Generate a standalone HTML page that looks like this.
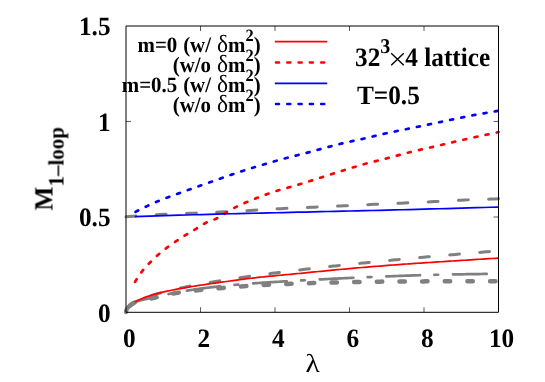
<!DOCTYPE html>
<html><head><meta charset="utf-8"><title>M 1-loop vs lambda</title>
<style>
html,body{margin:0;padding:0;background:#fff;}
svg{display:block;}
text{font-family:"Liberation Serif",serif;font-weight:bold;fill:#000;text-rendering:geometricPrecision;}
.txt{opacity:0.999;}
.tk{font-size:25.3px;}
.lg{font-size:20.9px;word-spacing:0.7px;}
.sym{font-weight:normal;}
</style></head><body>
<svg width="545" height="382" viewBox="0 0 545 382">
<rect width="545" height="382" fill="#fff"/>
<!-- ticks -->
<path d="M200.50,312.30v-5M200.50,26.00v5M275.00,312.30v-5M275.00,26.00v5M349.50,312.30v-5M349.50,26.00v5M424.00,312.30v-5M424.00,26.00v5M126.00,217.00h5M498.50,217.00h-5M126.00,121.45h5M498.50,121.45h-5" fill="none" stroke="#000" stroke-width="0.65"/>
<!-- gray reference curves -->
<g fill="none" stroke="#808080" stroke-linecap="round">
<path d="M126.00,216.87 L129.76,216.57 L133.53,216.27 L137.29,215.99 L141.05,215.72 L144.81,215.46 L148.58,215.22 L152.34,214.99 L156.10,214.77 L159.86,214.56 L163.63,214.37 L167.39,214.19 L171.15,214.03 L174.91,213.88 L178.68,213.73 L182.44,213.59 L186.20,213.44 L189.96,213.29 L193.73,213.14 L197.49,212.98 L201.25,212.83 L205.02,212.68 L208.78,212.52 L212.54,212.37 L216.30,212.21 L220.07,212.04 L223.83,211.86 L227.59,211.68 L231.35,211.49 L235.12,211.29 L238.88,211.09 L242.64,210.89 L246.40,210.68 L250.17,210.47 L253.93,210.26 L257.69,210.04 L261.45,209.80 L265.22,209.56 L268.98,209.32 L272.74,209.09 L276.51,208.87 L280.27,208.66 L284.03,208.47 L287.79,208.29 L291.56,208.13 L295.32,207.97 L299.08,207.82 L302.84,207.66 L306.61,207.51 L310.37,207.35 L314.13,207.18 L317.89,207.01 L321.66,206.84 L325.42,206.67 L329.18,206.49 L332.94,206.31 L336.71,206.13 L340.47,205.96 L344.23,205.78 L347.99,205.60 L351.76,205.42 L355.52,205.24 L359.28,205.06 L363.05,204.89 L366.81,204.71 L370.57,204.54 L374.33,204.37 L378.10,204.20 L381.86,204.03 L385.62,203.86 L389.38,203.69 L393.15,203.53 L396.91,203.36 L400.67,203.19 L404.43,203.02 L408.20,202.85 L411.96,202.68 L415.72,202.51 L419.48,202.34 L423.25,202.16 L427.01,201.98 L430.77,201.80 L434.54,201.61 L438.30,201.41 L442.06,201.21 L445.82,200.99 L449.59,200.78 L453.35,200.57 L457.11,200.37 L460.87,200.19 L464.64,200.02 L468.40,199.87 L472.16,199.72 L475.92,199.58 L479.69,199.45 L483.45,199.32 L487.21,199.20 L490.97,199.07 L494.74,198.95 L498.50,198.83" stroke-width="3" stroke-dasharray="9.9 20.35" stroke-dashoffset="30.21"/>
<path d="M126.00,312.09 L126.02,311.88 L126.04,311.66 L126.06,311.44 L126.10,311.22 L126.15,311.01 L126.20,310.79 L126.26,310.57 L126.33,310.36 L126.41,310.14 L126.50,309.92 L126.59,309.70 L126.69,309.49 L126.81,309.27 L126.93,309.05 L127.05,308.83 L127.19,308.62 L127.33,308.40 L127.49,308.18 L127.65,307.96 L127.82,307.75 L127.99,307.53 L128.18,307.31 L128.37,307.10 L128.58,306.88 L128.79,306.67 L129.01,306.45 L129.23,306.23 L129.47,306.02 L129.71,305.80 L129.97,305.59 L130.23,305.37 L130.49,305.16 L130.77,304.94 L131.06,304.73 L131.35,304.51 L131.65,304.30 L131.96,304.09 L132.28,303.87 L132.61,303.66 L132.94,303.44 L133.29,303.23 L133.64,303.02 L134.00,302.80 L134.36,302.59 L134.74,302.38 L135.13,302.17 L135.52,301.95 L135.92,301.74 L136.33,301.53 L136.75,301.32 L137.17,301.11 L137.61,300.90 L138.05,300.68 L138.50,300.47 L138.96,300.26 L139.43,300.05 L139.90,299.84 L140.39,299.63 L140.88,299.42 L141.38,299.21 L141.89,299.00 L142.41,298.79 L142.93,298.58 L143.47,298.37 L144.01,298.16 L144.56,297.95 L145.12,297.74 L145.68,297.53 L146.26,297.32 L146.84,297.11 L147.43,296.90 L148.03,296.70 L148.64,296.49 L149.26,296.28 L149.88,296.07 L150.52,295.86 L151.16,295.65 L151.81,295.45 L152.46,295.24 L153.13,295.03 L153.80,294.82 L154.49,294.61 L155.18,294.41 L155.88,294.20 L156.59,293.99 L157.30,293.79 L158.03,293.58 L158.76,293.37 L159.50,293.16 L160.25,292.96 L161.00,292.75 L161.77,292.55 L162.54,292.34 L163.33,292.13 L164.12,291.93 L164.91,291.72 L165.72,291.52 L166.54,291.31 L167.36,291.10 L168.19,290.90 L169.03,290.69 L169.88,290.49 L170.74,290.28 L171.60,290.08 L172.48,289.87 L173.36,289.67 L174.25,289.46 L175.14,289.26 L176.05,289.05 L176.97,288.85 L177.89,288.64 L178.82,288.44 L179.76,288.23 L180.71,288.03 L181.66,287.83 L182.63,287.62 L183.60,287.42 L184.58,287.21 L185.57,287.01 L186.57,286.81 L187.57,286.60 L188.59,286.40 L189.61,286.20 L190.64,285.99 L191.68,285.79 L192.72,285.59 L193.78,285.38 L194.84,285.18 L195.92,284.98 L197.00,284.77 L198.08,284.57 L199.18,284.37 L200.29,284.17 L201.40,283.96 L202.52,283.76 L203.65,283.56 L204.79,283.36 L205.94,283.15 L207.09,282.95 L208.25,282.75 L209.42,282.55 L210.60,282.35 L211.79,282.14 L212.99,281.94 L214.19,281.74 L215.41,281.54 L216.63,281.34 L217.86,281.14 L219.09,280.93 L220.34,280.73 L221.59,280.53 L222.86,280.33 L224.13,280.13 L225.40,279.93 L226.69,279.73 L227.99,279.53 L229.29,279.32 L230.60,279.12 L231.92,278.92 L233.25,278.72 L234.59,278.52 L235.93,278.32 L237.29,278.12 L238.65,277.92 L240.02,277.72 L241.40,277.51 L242.78,277.31 L244.18,277.11 L245.58,276.91 L246.99,276.71 L248.41,276.51 L249.84,276.31 L251.28,276.11 L252.72,275.91 L254.18,275.71 L255.64,275.51 L257.11,275.30 L258.58,275.10 L260.07,274.90 L261.56,274.70 L263.07,274.50 L264.58,274.30 L266.10,274.10 L267.62,273.90 L269.16,273.70 L270.70,273.50 L272.25,273.30 L273.82,273.10 L275.38,272.90 L276.96,272.70 L278.55,272.50 L280.14,272.30 L281.74,272.10 L283.35,271.90 L284.97,271.71 L286.60,271.51 L288.23,271.31 L289.88,271.11 L291.53,270.91 L293.19,270.71 L294.86,270.51 L296.53,270.31 L298.22,270.11 L299.91,269.91 L301.61,269.71 L303.32,269.51 L305.04,269.31 L306.76,269.11 L308.50,268.91 L310.24,268.71 L311.99,268.51 L313.75,268.31 L315.52,268.11 L317.29,267.91 L319.08,267.71 L320.87,267.51 L322.67,267.31 L324.48,267.11 L326.30,266.91 L328.12,266.71 L329.96,266.51 L331.80,266.31 L333.65,266.11 L335.51,265.91 L337.37,265.70 L339.25,265.50 L341.13,265.30 L343.02,265.10 L344.92,264.90 L346.83,264.70 L348.75,264.50 L350.67,264.30 L352.61,264.10 L354.55,263.89 L356.50,263.69 L358.46,263.49 L360.42,263.29 L362.40,263.09 L364.38,262.89 L366.37,262.68 L368.37,262.48 L370.38,262.28 L372.39,262.08 L374.42,261.88 L376.45,261.68 L378.49,261.47 L380.54,261.27 L382.60,261.07 L384.66,260.87 L386.74,260.67 L388.82,260.47 L390.91,260.27 L393.01,260.06 L395.11,259.86 L397.23,259.66 L399.35,259.46 L401.49,259.26 L403.63,259.06 L405.77,258.85 L407.93,258.65 L410.10,258.45 L412.27,258.25 L414.45,258.05 L416.64,257.85 L418.84,257.65 L421.04,257.45 L423.26,257.25 L425.48,257.05 L427.71,256.85 L429.95,256.65 L432.20,256.45 L434.46,256.25 L436.72,256.05 L438.99,255.85 L441.27,255.65 L443.56,255.45 L445.86,255.25 L448.17,255.05 L450.48,254.85 L452.80,254.65 L455.13,254.45 L457.47,254.25 L459.82,254.05 L462.18,253.85 L464.54,253.65 L466.91,253.45 L469.29,253.25 L471.68,253.05 L474.08,252.85 L476.48,252.65 L478.89,252.45 L481.32,252.25 L483.75,252.05 L486.18,251.85 L488.63,251.65 L491.09,251.45 L493.55,251.25 L496.02,251.06 L498.50,250.86" stroke-width="3" stroke-dasharray="9.7 20.45" stroke-dashoffset="28.75"/>
<path d="M126.00,312.09 L126.02,311.88 L126.04,311.66 L126.06,311.44 L126.10,311.22 L126.15,311.01 L126.20,310.79 L126.26,310.57 L126.33,310.36 L126.41,310.14 L126.50,309.92 L126.59,309.70 L126.69,309.49 L126.81,309.27 L126.93,309.05 L127.05,308.83 L127.19,308.62 L127.33,308.40 L127.49,308.18 L127.65,307.96 L127.82,307.75 L127.99,307.53 L128.18,307.31 L128.37,307.10 L128.58,306.88 L128.79,306.66 L129.01,306.45 L129.23,306.23 L129.47,306.01 L129.71,305.80 L129.97,305.59 L130.23,305.37 L130.49,305.16 L130.77,304.94 L131.06,304.73 L131.35,304.52 L131.65,304.31 L131.96,304.10 L132.28,303.89 L132.61,303.68 L132.94,303.47 L133.29,303.26 L133.64,303.06 L134.00,302.86 L134.36,302.66 L134.74,302.47 L135.13,302.28 L135.52,302.09 L135.92,301.92 L136.33,301.75 L136.75,301.58 L137.17,301.42 L137.61,301.26 L138.05,301.11 L138.50,300.96 L138.96,300.82 L139.43,300.68 L139.90,300.55 L140.39,300.42 L140.88,300.28 L141.38,300.15 L141.89,300.02 L142.41,299.89 L142.93,299.76 L143.47,299.63 L144.01,299.52 L144.56,299.40 L145.12,299.29 L145.68,299.18 L146.26,299.06 L146.84,298.93 L147.43,298.80 L148.03,298.65 L148.64,298.50 L149.26,298.34 L149.88,298.18 L150.52,298.03 L151.16,297.87 L151.81,297.71 L152.46,297.55 L153.13,297.39 L153.80,297.23 L154.49,297.07 L155.18,296.91 L155.88,296.75 L156.59,296.59 L157.30,296.43 L158.03,296.26 L158.76,296.10 L159.50,295.93 L160.25,295.77 L161.00,295.60 L161.77,295.44 L162.54,295.27 L163.33,295.11 L164.12,294.94 L164.91,294.77 L165.72,294.61 L166.54,294.44 L167.36,294.28 L168.19,294.11 L169.03,293.94 L169.88,293.77 L170.74,293.61 L171.60,293.44 L172.48,293.27 L173.36,293.11 L174.25,292.94 L175.14,292.77 L176.05,292.60 L176.97,292.43 L177.89,292.27 L178.82,292.10 L179.76,291.93 L180.71,291.76 L181.66,291.59 L182.63,291.43 L183.60,291.26 L184.58,291.09 L185.57,290.93 L186.57,290.76 L187.57,290.59 L188.59,290.43 L189.61,290.26 L190.64,290.10 L191.68,289.93 L192.72,289.77 L193.78,289.61 L194.84,289.45 L195.92,289.29 L197.00,289.13 L198.08,288.97 L199.18,288.82 L200.29,288.66 L201.40,288.51 L202.52,288.36 L203.65,288.21 L204.79,288.06 L205.94,287.91 L207.09,287.77 L208.25,287.63 L209.42,287.48 L210.60,287.34 L211.79,287.20 L212.99,287.07 L214.19,286.93 L215.41,286.79 L216.63,286.66 L217.86,286.53 L219.09,286.40 L220.34,286.27 L221.59,286.14 L222.86,286.01 L224.13,285.88 L225.40,285.76 L226.69,285.63 L227.99,285.51 L229.29,285.39 L230.60,285.27 L231.92,285.14 L233.25,285.02 L234.59,284.90 L235.93,284.78 L237.29,284.66 L238.65,284.55 L240.02,284.43 L241.40,284.31 L242.78,284.20 L244.18,284.08 L245.58,283.97 L246.99,283.86 L248.41,283.75 L249.84,283.65 L251.28,283.54 L252.72,283.43 L254.18,283.33 L255.64,283.22 L257.11,283.12 L258.58,283.02 L260.07,282.92 L261.56,282.82 L263.07,282.72 L264.58,282.62 L266.10,282.52 L267.62,282.42 L269.16,282.32 L270.70,282.22 L272.25,282.13 L273.82,282.03 L275.38,281.93 L276.96,281.83 L278.55,281.73 L280.14,281.64 L281.74,281.54 L283.35,281.44 L284.97,281.35 L286.60,281.26 L288.23,281.16 L289.88,281.07 L291.53,280.98 L293.19,280.88 L294.86,280.79 L296.53,280.70 L298.22,280.61 L299.91,280.51 L301.61,280.42 L303.32,280.33 L305.04,280.24 L306.76,280.15 L308.50,280.05 L310.24,279.96 L311.99,279.87 L313.75,279.77 L315.52,279.68 L317.29,279.58 L319.08,279.49 L320.87,279.39 L322.67,279.30 L324.48,279.20 L326.30,279.10 L328.12,279.01 L329.96,278.91 L331.80,278.82 L333.65,278.72 L335.51,278.62 L337.37,278.53 L339.25,278.44 L341.13,278.34 L343.02,278.25 L344.92,278.16 L346.83,278.07 L348.75,277.98 L350.67,277.89 L352.61,277.80 L354.55,277.72 L356.50,277.63 L358.46,277.55 L360.42,277.46 L362.40,277.38 L364.38,277.30 L366.37,277.22 L368.37,277.14 L370.38,277.05 L372.39,276.97 L374.42,276.89 L376.45,276.81 L378.49,276.73 L380.54,276.66 L382.60,276.58 L384.66,276.50 L386.74,276.42 L388.82,276.34 L390.91,276.26 L393.01,276.18 L395.11,276.10 L397.23,276.01 L399.35,275.93 L401.49,275.85 L403.63,275.77 L405.77,275.69 L407.93,275.61 L410.10,275.53 L412.27,275.46 L414.45,275.38 L416.64,275.31 L418.84,275.24 L421.04,275.17 L423.26,275.10 L425.48,275.04 L427.71,274.98 L429.95,274.92 L432.20,274.87 L434.46,274.82 L436.72,274.77 L438.99,274.72 L441.27,274.67 L443.56,274.63 L445.86,274.59 L448.17,274.55 L450.48,274.50 L452.80,274.46 L455.13,274.42 L457.47,274.38 L459.82,274.34 L462.18,274.30 L464.54,274.26 L466.91,274.22 L469.29,274.18 L471.68,274.14 L474.08,274.10 L476.48,274.06 L478.89,274.03 L481.32,273.99 L483.75,273.95 L486.18,273.92 L488.63,273.88 L491.09,273.85 L493.55,273.81 L496.02,273.78 L498.50,273.74" stroke-width="2.7" stroke-dasharray="33.7 14.3 3.8 14.9" stroke-dashoffset="66.30"/>
<path d="M126.00,312.09 L126.02,311.78 L126.06,311.47 L126.11,311.16 L126.18,310.85 L126.27,310.54 L126.38,310.23 L126.50,309.92 L126.64,309.61 L126.79,309.30 L126.96,308.99 L127.15,308.68 L127.36,308.36 L127.58,308.05 L127.82,307.74 L128.08,307.43 L128.35,307.12 L128.64,306.81 L128.95,306.50 L129.27,306.19 L129.62,305.89 L129.97,305.58 L130.35,305.27 L130.74,304.97 L131.15,304.66 L131.58,304.36 L132.02,304.06 L132.48,303.76 L132.96,303.46 L133.45,303.17" stroke-width="4.2"/>
<path d="M126.00,312.09 L126.02,311.88 L126.04,311.66 L126.06,311.44 L126.10,311.22 L126.15,311.01 L126.20,310.79 L126.26,310.57 L126.33,310.36 L126.41,310.14 L126.50,309.92 L126.59,309.70 L126.69,309.49 L126.81,309.27 L126.93,309.05 L127.05,308.83 L127.19,308.62 L127.33,308.40 L127.49,308.18 L127.65,307.96 L127.82,307.75 L127.99,307.53 L128.18,307.31 L128.37,307.10 L128.58,306.88 L128.79,306.66 L129.01,306.45 L129.23,306.23 L129.47,306.01 L129.71,305.80 L129.97,305.58 L130.23,305.37 L130.49,305.16 L130.77,304.94 L131.06,304.73 L131.35,304.52 L131.65,304.31 L131.96,304.10 L132.28,303.89 L132.61,303.68 L132.94,303.47 L133.29,303.26 L133.64,303.06 L134.00,302.86 L134.36,302.67 L134.74,302.49 L135.13,302.32 L135.52,302.15 L135.92,302.00 L136.33,301.85 L136.75,301.72 L137.17,301.59 L137.61,301.47 L138.05,301.35 L138.50,301.25 L138.96,301.14 L139.43,301.04 L139.90,300.94 L140.39,300.85 L140.88,300.75 L141.38,300.64 L141.89,300.52 L142.41,300.39 L142.93,300.26 L143.47,300.13 L144.01,300.00 L144.56,299.87 L145.12,299.75 L145.68,299.62 L146.26,299.50 L146.84,299.38 L147.43,299.26 L148.03,299.13 L148.64,299.01 L149.26,298.88 L149.88,298.75 L150.52,298.62 L151.16,298.48 L151.81,298.34 L152.46,298.19 L153.13,298.03 L153.80,297.87 L154.49,297.70 L155.18,297.53 L155.88,297.36 L156.59,297.19 L157.30,297.01 L158.03,296.84 L158.76,296.67 L159.50,296.50 L160.25,296.32 L161.00,296.15 L161.77,295.98 L162.54,295.80 L163.33,295.63 L164.12,295.46 L164.91,295.28 L165.72,295.11 L166.54,294.94 L167.36,294.76 L168.19,294.59 L169.03,294.42 L169.88,294.25 L170.74,294.07 L171.60,293.90 L172.48,293.73 L173.36,293.56 L174.25,293.39 L175.14,293.23 L176.05,293.06 L176.97,292.90 L177.89,292.74 L178.82,292.59 L179.76,292.44 L180.71,292.29 L181.66,292.15 L182.63,292.01 L183.60,291.88 L184.58,291.74 L185.57,291.61 L186.57,291.49 L187.57,291.36 L188.59,291.24 L189.61,291.12 L190.64,291.01 L191.68,290.89 L192.72,290.78 L193.78,290.67 L194.84,290.56 L195.92,290.44 L197.00,290.33 L198.08,290.22 L199.18,290.11 L200.29,289.99 L201.40,289.87 L202.52,289.76 L203.65,289.65 L204.79,289.54 L205.94,289.43 L207.09,289.32 L208.25,289.21 L209.42,289.10 L210.60,288.99 L211.79,288.89 L212.99,288.78 L214.19,288.68 L215.41,288.57 L216.63,288.47 L217.86,288.36 L219.09,288.25 L220.34,288.15 L221.59,288.04 L222.86,287.93 L224.13,287.82 L225.40,287.72 L226.69,287.61 L227.99,287.50 L229.29,287.39 L230.60,287.29 L231.92,287.18 L233.25,287.07 L234.59,286.97 L235.93,286.86 L237.29,286.76 L238.65,286.66 L240.02,286.55 L241.40,286.45 L242.78,286.34 L244.18,286.24 L245.58,286.13 L246.99,286.03 L248.41,285.92 L249.84,285.82 L251.28,285.72 L252.72,285.62 L254.18,285.53 L255.64,285.43 L257.11,285.34 L258.58,285.26 L260.07,285.17 L261.56,285.09 L263.07,285.01 L264.58,284.93 L266.10,284.85 L267.62,284.78 L269.16,284.70 L270.70,284.63 L272.25,284.56 L273.82,284.49 L275.38,284.42 L276.96,284.35 L278.55,284.28 L280.14,284.21 L281.74,284.14 L283.35,284.08 L284.97,284.01 L286.60,283.95 L288.23,283.89 L289.88,283.83 L291.53,283.77 L293.19,283.71 L294.86,283.65 L296.53,283.59 L298.22,283.54 L299.91,283.48 L301.61,283.43 L303.32,283.37 L305.04,283.32 L306.76,283.26 L308.50,283.21 L310.24,283.16 L311.99,283.11 L313.75,283.05 L315.52,283.00 L317.29,282.95 L319.08,282.90 L320.87,282.85 L322.67,282.80 L324.48,282.75 L326.30,282.70 L328.12,282.65 L329.96,282.60 L331.80,282.55 L333.65,282.50 L335.51,282.46 L337.37,282.41 L339.25,282.37 L341.13,282.32 L343.02,282.28 L344.92,282.24 L346.83,282.20 L348.75,282.16 L350.67,282.12 L352.61,282.08 L354.55,282.04 L356.50,282.01 L358.46,281.97 L360.42,281.94 L362.40,281.90 L364.38,281.87 L366.37,281.84 L368.37,281.81 L370.38,281.78 L372.39,281.75 L374.42,281.72 L376.45,281.69 L378.49,281.66 L380.54,281.64 L382.60,281.61 L384.66,281.59 L386.74,281.57 L388.82,281.55 L390.91,281.53 L393.01,281.52 L395.11,281.50 L397.23,281.49 L399.35,281.48 L401.49,281.47 L403.63,281.46 L405.77,281.45 L407.93,281.44 L410.10,281.43 L412.27,281.42 L414.45,281.42 L416.64,281.41 L418.84,281.40 L421.04,281.39 L423.26,281.38 L425.48,281.37 L427.71,281.36 L429.95,281.36 L432.20,281.35 L434.46,281.34 L436.72,281.33 L438.99,281.33 L441.27,281.32 L443.56,281.32 L445.86,281.31 L448.17,281.31 L450.48,281.31 L452.80,281.30 L455.13,281.30 L457.47,281.30 L459.82,281.30 L462.18,281.30 L464.54,281.29 L466.91,281.29 L469.29,281.29 L471.68,281.29 L474.08,281.29 L476.48,281.29 L478.89,281.29 L481.32,281.29 L483.75,281.29 L486.18,281.29 L488.63,281.29 L491.09,281.29 L493.55,281.29 L496.02,281.29 L498.50,281.28" stroke-width="4.5" stroke-dasharray="5.4 17.25" stroke-dashoffset="14.63"/>
</g>
<!-- data curves -->
<g fill="none">
<path d="M134.75,282.36 L135.08,281.80 L135.41,281.25 L135.75,280.70 L136.10,280.14 L136.45,279.59 L136.80,279.01 L137.16,278.43 L137.53,277.85 L137.91,277.27 L138.29,276.69 L138.67,276.10 L139.06,275.52 L139.46,274.94 L139.87,274.36 L140.28,273.78 L140.69,273.21 L141.11,272.63 L141.54,272.06 L141.98,271.49 L142.42,270.92 L142.86,270.35 L143.31,269.79 L143.77,269.24 L144.24,268.69 L144.71,268.14 L145.18,267.60 L145.66,267.06 L146.15,266.52 L146.64,265.99 L147.14,265.46 L147.65,264.93 L148.16,264.40 L148.68,263.86 L149.20,263.33 L149.73,262.79 L150.27,262.25 L150.81,261.70 L151.36,261.15 L151.91,260.60 L152.47,260.05 L153.03,259.50 L153.61,258.95 L154.18,258.40 L154.77,257.85 L155.36,257.30 L155.95,256.74 L156.55,256.19 L157.16,255.64 L157.77,255.09 L158.39,254.55 L159.02,254.00 L159.65,253.46 L160.29,252.92 L160.93,252.38 L161.58,251.85 L162.23,251.32 L162.89,250.79 L163.56,250.27 L164.23,249.75 L164.91,249.22 L165.60,248.70 L166.29,248.18 L166.98,247.66 L167.69,247.14 L168.40,246.62 L169.11,246.10 L169.83,245.59 L170.56,245.07 L171.29,244.56 L172.03,244.05 L172.77,243.54 L173.52,243.03 L174.28,242.51 L175.04,242.00 L175.81,241.48 L176.59,240.96 L177.37,240.43 L178.15,239.91 L178.95,239.38 L179.74,238.85 L180.55,238.32 L181.36,237.79 L182.17,237.26 L183.00,236.73 L183.82,236.20 L184.66,235.67 L185.50,235.14 L186.35,234.61 L187.20,234.08 L188.06,233.55 L188.92,233.03 L189.79,232.51 L190.67,231.99 L191.55,231.46 L192.44,230.94 L193.33,230.41 L194.23,229.88 L195.14,229.35 L196.05,228.81 L196.97,228.26 L197.89,227.69 L198.82,227.10 L199.75,226.51 L200.70,225.91 L201.64,225.30 L202.60,224.70 L203.56,224.11 L204.52,223.53 L205.49,222.97 L206.47,222.46 L207.46,222.00 L208.45,221.58 L209.44,221.20 L210.44,220.84 L211.45,220.50 L212.46,220.15 L213.48,219.78 L214.51,219.39 L215.54,218.95 L216.58,218.44 L217.62,217.89 L218.67,217.30 L219.72,216.70 L220.79,216.08 L221.85,215.43 L222.93,214.77 L224.01,214.10 L225.09,213.41 L226.18,212.72 L227.28,212.03 L228.38,211.33 L229.49,210.65 L230.61,209.96 L231.73,209.29 L232.85,208.64 L233.99,208.01 L235.12,207.41 L236.27,206.84 L237.42,206.29 L238.58,205.74 L239.74,205.21 L240.91,204.67 L242.08,204.14 L243.26,203.61 L244.45,203.09 L245.64,202.57 L246.84,202.06 L248.05,201.55 L249.26,201.04 L250.47,200.53 L251.70,200.03 L252.93,199.54 L254.16,199.04 L255.40,198.55 L256.65,198.06 L257.90,197.57 L259.16,197.09 L260.42,196.60 L261.69,196.12 L262.97,195.64 L264.25,195.16 L265.54,194.69 L266.83,194.21 L268.13,193.74 L269.44,193.26 L270.75,192.80 L272.07,192.36 L273.39,191.92 L274.72,191.49 L276.06,191.07 L277.40,190.66 L278.75,190.25 L280.10,189.85 L281.46,189.46 L282.83,189.07 L284.20,188.68 L285.58,188.29 L286.96,187.91 L288.35,187.52 L289.75,187.14 L291.15,186.74 L292.56,186.35 L293.97,185.95 L295.39,185.54 L296.82,185.12 L298.25,184.70 L299.69,184.25 L301.13,183.81 L302.58,183.36 L304.03,182.91 L305.50,182.45 L306.96,182.00 L308.44,181.54 L309.92,181.07 L311.40,180.61 L312.89,180.14 L314.39,179.67 L315.89,179.19 L317.40,178.70 L318.92,178.21 L320.44,177.72 L321.97,177.23 L323.50,176.73 L325.04,176.24 L326.58,175.74 L328.14,175.24 L329.69,174.73 L331.26,174.23 L332.82,173.73 L334.40,173.22 L335.98,172.72 L337.57,172.21 L339.16,171.70 L340.76,171.20 L342.36,170.69 L343.97,170.19 L345.59,169.68 L347.21,169.18 L348.84,168.67 L350.48,168.17 L352.12,167.67 L353.77,167.17 L355.42,166.68 L357.08,166.18 L358.74,165.69 L360.41,165.20 L362.09,164.72 L363.77,164.24 L365.46,163.77 L367.15,163.31 L368.85,162.87 L370.56,162.43 L372.27,161.99 L373.99,161.56 L375.72,161.14 L377.45,160.71 L379.18,160.28 L380.92,159.85 L382.67,159.42 L384.43,158.97 L386.19,158.52 L387.95,158.05 L389.73,157.58 L391.50,157.10 L393.29,156.62 L395.08,156.13 L396.87,155.64 L398.68,155.16 L400.48,154.67 L402.30,154.18 L404.12,153.70 L405.94,153.22 L407.78,152.75 L409.61,152.28 L411.46,151.82 L413.31,151.37 L415.16,150.93 L417.02,150.50 L418.89,150.07 L420.77,149.65 L422.65,149.23 L424.53,148.81 L426.42,148.38 L428.32,147.95 L430.22,147.51 L432.13,147.07 L434.05,146.62 L435.97,146.16 L437.90,145.71 L439.83,145.25 L441.77,144.79 L443.72,144.33 L445.67,143.87 L447.62,143.41 L449.59,142.95 L451.56,142.48 L453.53,142.02 L455.51,141.56 L457.50,141.10 L459.49,140.64 L461.49,140.19 L463.50,139.73 L465.51,139.28 L467.53,138.83 L469.55,138.38 L471.58,137.93 L473.61,137.48 L475.65,137.03 L477.70,136.58 L479.75,136.13 L481.81,135.69 L483.88,135.24 L485.95,134.79 L488.03,134.35 L490.11,133.91 L492.20,133.46 L494.29,133.02 L496.39,132.58 L498.50,132.13" stroke="#ff0000" stroke-width="2.7" stroke-linecap="round" stroke-dasharray="3 8.4" stroke-dashoffset="-0.6"/>
<path d="M134.75,212.27 L136.58,211.29 L138.41,210.36 L140.24,209.44 L142.07,208.53 L143.89,207.63 L145.72,206.75 L147.55,205.87 L149.38,205.02 L151.20,204.17 L153.03,203.35 L154.86,202.54 L156.69,201.76 L158.52,200.99 L160.34,200.25 L162.17,199.52 L164.00,198.81 L165.83,198.11 L167.66,197.42 L169.48,196.74 L171.31,196.07 L173.14,195.40 L174.97,194.73 L176.79,194.06 L178.62,193.39 L180.45,192.73 L182.28,192.06 L184.11,191.41 L185.93,190.75 L187.76,190.10 L189.59,189.46 L191.42,188.81 L193.25,188.17 L195.07,187.53 L196.90,186.89 L198.73,186.25 L200.56,185.60 L202.38,184.96 L204.21,184.31 L206.04,183.66 L207.87,183.01 L209.70,182.35 L211.52,181.70 L213.35,181.04 L215.18,180.39 L217.01,179.74 L218.84,179.08 L220.66,178.43 L222.49,177.79 L224.32,177.14 L226.15,176.50 L227.98,175.86 L229.80,175.23 L231.63,174.60 L233.46,173.98 L235.29,173.36 L237.11,172.75 L238.94,172.14 L240.77,171.54 L242.60,170.95 L244.43,170.37 L246.25,169.78 L248.08,169.21 L249.91,168.63 L251.74,168.07 L253.57,167.50 L255.39,166.94 L257.22,166.38 L259.05,165.83 L260.88,165.28 L262.70,164.74 L264.53,164.19 L266.36,163.66 L268.19,163.12 L270.02,162.59 L271.84,162.07 L273.67,161.55 L275.50,161.03 L277.33,160.51 L279.16,160.00 L280.98,159.50 L282.81,159.00 L284.64,158.51 L286.47,158.03 L288.29,157.55 L290.12,157.07 L291.95,156.60 L293.78,156.13 L295.61,155.66 L297.43,155.20 L299.26,154.73 L301.09,154.26 L302.92,153.80 L304.75,153.33 L306.57,152.85 L308.40,152.38 L310.23,151.90 L312.06,151.41 L313.89,150.92 L315.71,150.43 L317.54,149.93 L319.37,149.42 L321.20,148.92 L323.02,148.42 L324.85,147.92 L326.68,147.42 L328.51,146.92 L330.34,146.43 L332.16,145.94 L333.99,145.46 L335.82,144.98 L337.65,144.52 L339.48,144.06 L341.30,143.61 L343.13,143.18 L344.96,142.76 L346.79,142.34 L348.61,141.94 L350.44,141.54 L352.27,141.14 L354.10,140.75 L355.93,140.35 L357.75,139.96 L359.58,139.56 L361.41,139.15 L363.24,138.74 L365.07,138.31 L366.89,137.88 L368.72,137.45 L370.55,137.01 L372.38,136.57 L374.20,136.12 L376.03,135.68 L377.86,135.24 L379.69,134.81 L381.52,134.38 L383.34,133.96 L385.17,133.55 L387.00,133.15 L388.83,132.76 L390.66,132.37 L392.48,131.99 L394.31,131.62 L396.14,131.24 L397.97,130.87 L399.79,130.50 L401.62,130.13 L403.45,129.75 L405.28,129.38 L407.11,129.00 L408.93,128.62 L410.76,128.24 L412.59,127.85 L414.42,127.47 L416.25,127.08 L418.07,126.70 L419.90,126.31 L421.73,125.93 L423.56,125.54 L425.39,125.16 L427.21,124.77 L429.04,124.39 L430.87,124.00 L432.70,123.62 L434.52,123.23 L436.35,122.85 L438.18,122.47 L440.01,122.09 L441.84,121.70 L443.66,121.32 L445.49,120.93 L447.32,120.55 L449.15,120.16 L450.98,119.77 L452.80,119.38 L454.63,118.99 L456.46,118.61 L458.29,118.22 L460.11,117.84 L461.94,117.46 L463.77,117.09 L465.60,116.72 L467.43,116.35 L469.25,115.99 L471.08,115.63 L472.91,115.28 L474.74,114.94 L476.57,114.60 L478.39,114.28 L480.22,113.96 L482.05,113.64 L483.88,113.33 L485.70,113.02 L487.53,112.70 L489.36,112.39 L491.19,112.08 L493.02,111.75 L494.84,111.43 L496.67,111.09 L498.50,110.74" stroke="#0000ff" stroke-width="2.7" stroke-linecap="round" stroke-dasharray="3 8.33" stroke-dashoffset="-0.9"/>
<path d="M134.75,301.99 L135.25,301.70 L135.75,301.42 L136.27,301.14 L136.81,300.87 L137.35,300.60 L137.91,300.32 L138.49,300.05 L139.07,299.78 L139.67,299.51 L140.29,299.24 L140.91,298.97 L141.56,298.70 L142.21,298.44 L142.88,298.17 L143.56,297.91 L144.25,297.64 L144.96,297.38 L145.69,297.12 L146.42,296.86 L147.17,296.60 L147.93,296.34 L148.71,296.08 L149.50,295.83 L150.30,295.57 L151.12,295.32 L151.95,295.06 L152.79,294.81 L153.65,294.56 L154.52,294.31 L155.40,294.06 L156.30,293.82 L157.21,293.57 L158.13,293.32 L159.07,293.08 L160.02,292.84 L160.99,292.60 L161.96,292.36 L162.96,292.12 L163.96,291.88 L164.98,291.64 L166.01,291.41 L167.06,291.17 L168.12,290.94 L169.19,290.71 L170.28,290.48 L171.38,290.25 L172.49,290.02 L173.62,289.80 L174.76,289.57 L175.91,289.35 L177.08,289.12 L178.26,288.90 L179.45,288.68 L180.66,288.46 L181.88,288.23 L183.11,288.01 L184.36,287.80 L185.62,287.58 L186.90,287.36 L188.19,287.14 L189.49,286.93 L190.80,286.71 L192.13,286.50 L193.47,286.28 L194.83,286.07 L196.20,285.86 L197.58,285.64 L198.98,285.43 L200.39,285.21 L201.81,285.00 L203.25,284.79 L204.70,284.57 L206.16,284.36 L207.64,284.15 L209.13,283.94 L210.63,283.72 L212.15,283.51 L213.68,283.29 L215.23,283.08 L216.79,282.86 L218.36,282.63 L219.94,282.41 L221.54,282.18 L223.15,281.95 L224.78,281.72 L226.42,281.49 L228.07,281.26 L229.74,281.02 L231.42,280.79 L233.11,280.56 L234.82,280.32 L236.54,280.09 L238.27,279.86 L240.02,279.62 L241.78,279.39 L243.55,279.16 L245.34,278.93 L247.14,278.70 L248.95,278.48 L250.78,278.26 L252.62,278.04 L254.48,277.83 L256.35,277.62 L258.23,277.41 L260.12,277.20 L262.03,277.00 L263.95,276.80 L265.89,276.61 L267.84,276.41 L269.80,276.22 L271.78,276.03 L273.77,275.84 L275.77,275.65 L277.79,275.46 L279.82,275.27 L281.86,275.08 L283.92,274.89 L285.99,274.70 L288.07,274.51 L290.17,274.32 L292.28,274.12 L294.41,273.92 L296.54,273.71 L298.70,273.50 L300.86,273.29 L303.04,273.07 L305.23,272.85 L307.44,272.63 L309.66,272.41 L311.89,272.19 L314.13,271.96 L316.39,271.74 L318.67,271.51 L320.95,271.29 L323.25,271.06 L325.57,270.83 L327.89,270.61 L330.23,270.38 L332.59,270.16 L334.95,269.93 L337.34,269.70 L339.73,269.48 L342.14,269.26 L344.56,269.04 L346.99,268.82 L349.44,268.60 L351.90,268.38 L354.38,268.16 L356.87,267.95 L359.37,267.73 L361.89,267.52 L364.41,267.30 L366.96,267.09 L369.51,266.88 L372.08,266.67 L374.67,266.46 L377.26,266.25 L379.87,266.04 L382.50,265.83 L385.13,265.62 L387.78,265.42 L390.45,265.21 L393.13,265.01 L395.82,264.80 L398.52,264.60 L401.24,264.40 L403.97,264.20 L406.72,264.00 L409.47,263.81 L412.25,263.62 L415.03,263.43 L417.83,263.24 L420.64,263.05 L423.47,262.86 L426.31,262.68 L429.16,262.49 L432.03,262.31 L434.91,262.12 L437.80,261.94 L440.71,261.75 L443.63,261.56 L446.56,261.37 L449.51,261.18 L452.47,260.99 L455.44,260.80 L458.43,260.61 L461.43,260.42 L464.45,260.23 L467.48,260.03 L470.52,259.84 L473.57,259.65 L476.64,259.46 L479.72,259.26 L482.82,259.07 L485.93,258.88 L489.05,258.68 L492.19,258.49 L495.34,258.29 L498.50,258.09" stroke="#ff0000" stroke-width="1.7"/>
<path d="M134.75,216.69 L142.18,216.45 L149.60,216.20 L157.02,215.95 L164.45,215.71 L171.87,215.46 L179.29,215.22 L186.72,214.98 L194.14,214.76 L201.56,214.55 L208.99,214.34 L216.41,214.15 L223.83,213.96 L231.26,213.77 L238.68,213.59 L246.10,213.41 L253.53,213.24 L260.95,213.07 L268.37,212.90 L275.80,212.73 L283.22,212.56 L290.65,212.39 L298.07,212.22 L305.49,212.05 L312.92,211.87 L320.34,211.70 L327.76,211.52 L335.19,211.35 L342.61,211.18 L350.03,211.00 L357.46,210.83 L364.88,210.66 L372.30,210.49 L379.73,210.31 L387.15,210.13 L394.57,209.94 L402.00,209.75 L409.42,209.56 L416.84,209.37 L424.27,209.17 L431.69,208.97 L439.11,208.76 L446.54,208.56 L453.96,208.35 L461.38,208.14 L468.81,207.92 L476.23,207.70 L483.65,207.48 L491.08,207.26 L498.50,207.04" stroke="#0000ff" stroke-width="1.7"/>
</g>
<!-- legend samples -->
<g fill="none">
<path d="M274.8,41.6H327.2" stroke="#ff0000" stroke-width="1.7"/>
<path d="M276,62.5H327.2" stroke="#ff0000" stroke-width="2.6" stroke-linecap="round" stroke-dasharray="3 8.3"/>
<path d="M274.8,83.3H327.2" stroke="#0000ff" stroke-width="1.7"/>
<path d="M276,104H327.2" stroke="#0000ff" stroke-width="2.6" stroke-linecap="round" stroke-dasharray="3 8.3"/>
</g>
<!-- frame and ticks -->
<path d="M126.0,26.0H498.5V312.3H126.0Z" fill="none" stroke="#000" stroke-width="1"/>
<g class="txt">
<!-- y tick labels -->
<g class="tk" text-anchor="end">
<g transform="translate(110.6,35.0) scale(1,1.05)"><text>1.5</text></g>
<g transform="translate(110.6,130.5) scale(1,1.05)"><text>1</text></g>
<g transform="translate(110.6,226.0) scale(1,1.05)"><text>0.5</text></g>
<g transform="translate(110.6,321.5) scale(1,1.05)"><text>0</text></g>
</g>
<!-- x tick labels -->
<g class="tk" text-anchor="middle">
<g transform="translate(129.3,346.8) scale(1,1.05)"><text>0</text></g>
<g transform="translate(203.9,346.8) scale(1,1.05)"><text>2</text></g>
<g transform="translate(278.3,346.8) scale(1,1.05)"><text>4</text></g>
<g transform="translate(352.9,346.8) scale(1,1.05)"><text>6</text></g>
<g transform="translate(427.4,346.8) scale(1,1.05)"><text>8</text></g>
<g transform="translate(501.6,346.8) scale(1,1.05)"><text>10</text></g>
</g>
<!-- axis labels -->
<g transform="translate(312.7,372.3) scale(1.13,1)"><text class="tk sym" text-anchor="middle" style="font-size:26px">λ</text></g>
<g transform="translate(52.6,210.5) rotate(-90) scale(1,1.05)">
<text class="tk" x="0" y="0">M<tspan dy="10.8" style="font-size:21px">1–loop</tspan></text>
</g>
<!-- legend text -->
<g class="lg" text-anchor="end">
<g transform="translate(260.6,51.5) scale(1,1.05)"><text>m=0 (w/ <tspan class="sym" style="font-size:23.5px">δ</tspan>m<tspan dy="-10.3" style="font-size:16.4px">2</tspan><tspan dy="10.3">)</tspan></text></g>
<g transform="translate(260.6,71.6) scale(1,1.05)"><text>(w/o <tspan class="sym" style="font-size:23.5px">δ</tspan>m<tspan dy="-10.3" style="font-size:16.4px">2</tspan><tspan dy="10.3">)</tspan></text></g>
<g transform="translate(260.6,91.8) scale(1,1.05)"><text>m=0.5 (w/ <tspan class="sym" style="font-size:23.5px">δ</tspan>m<tspan dy="-10.3" style="font-size:16.4px">2</tspan><tspan dy="10.3">)</tspan></text></g>
<g transform="translate(260.6,111.9) scale(1,1.05)"><text>(w/o <tspan class="sym" style="font-size:23.5px">δ</tspan>m<tspan dy="-10.3" style="font-size:16.4px">2</tspan><tspan dy="10.3">)</tspan></text></g>
</g>
<!-- annotations -->
<g class="tk">
<g transform="translate(355.0,66.0) scale(1,1.05)"><text>32<tspan dy="-12" style="font-size:20px">3</tspan></text></g>
<g transform="translate(405.3,66.0) scale(1,1.05)"><text>4 lattice</text></g>
<path d="M391.2,53.2L403.8,65.2M403.8,53.2L391.2,65.2" stroke="#000" stroke-width="1.4" fill="none"/>
<g transform="translate(356.9,103.9) scale(1,1.05)"><text>T=0.5</text></g>
</g>
</g>
</svg>
</body></html>
